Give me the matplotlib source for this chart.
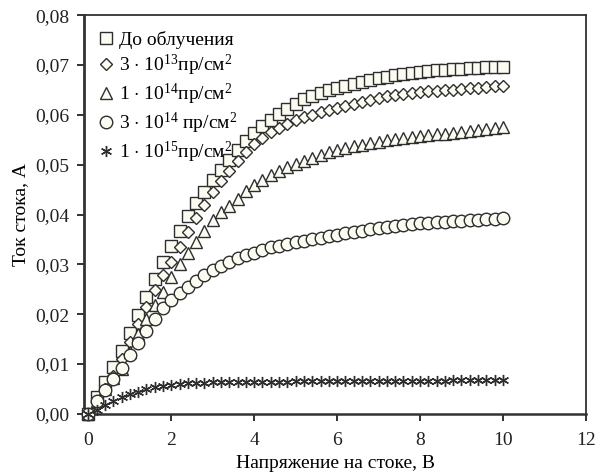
import numpy as np
import matplotlib
matplotlib.use("Agg")
import matplotlib.pyplot as plt
from matplotlib.ticker import FuncFormatter, MultipleLocator

plt.rcParams['font.family'] = ['Liberation Serif', 'DejaVu Serif']
plt.rcParams['mathtext.fontset'] = 'custom'
plt.rcParams['mathtext.rm'] = 'Liberation Serif'
plt.rcParams['mathtext.it'] = 'Liberation Serif:italic'

# drain voltage sweep, V
u_drain = np.round(np.arange(51) * 0.2, 1)

# drain current, A
i_before = [0.0000, 0.0033, 0.0064, 0.0094, 0.0127, 0.0163, 0.0198, 0.0235, 0.0270, 0.0305,
            0.0337, 0.0366, 0.0398, 0.0423, 0.0446, 0.0470, 0.0490, 0.0510, 0.0530, 0.0548,
            0.0564, 0.0578, 0.0590, 0.0602, 0.0612, 0.0622, 0.0631, 0.0638, 0.0644, 0.0649,
            0.0653, 0.0657, 0.0662, 0.0666, 0.0670, 0.0673, 0.0676, 0.0679, 0.0682, 0.0684,
            0.0686, 0.0688, 0.0689, 0.0690, 0.0691, 0.0692, 0.0693, 0.0694, 0.0695, 0.0695,
            0.0696]
i_3e13 = [0.0000, 0.0025, 0.0050, 0.0076, 0.0110, 0.0145, 0.0180, 0.0214, 0.0248, 0.0278,
          0.0305, 0.0335, 0.0365, 0.0393, 0.0420, 0.0445, 0.0468, 0.0488, 0.0507, 0.0525,
          0.0541, 0.0553, 0.0565, 0.0574, 0.0582, 0.0589, 0.0595, 0.0600, 0.0605, 0.0610,
          0.0614, 0.0618, 0.0622, 0.0626, 0.0630, 0.0634, 0.0637, 0.0640, 0.0642, 0.0644,
          0.0646, 0.0647, 0.0648, 0.0649, 0.0650, 0.0652, 0.0653, 0.0654, 0.0656, 0.0657,
          0.0658]
i_1e14 = [0.0000, 0.0025, 0.0050, 0.0072, 0.0090, 0.0125, 0.0160, 0.0190, 0.0218, 0.0245,
          0.0275, 0.0300, 0.0323, 0.0345, 0.0366, 0.0390, 0.0405, 0.0418, 0.0432, 0.0447,
          0.0460, 0.0470, 0.0480, 0.0488, 0.0496, 0.0502, 0.0508, 0.0514, 0.0520, 0.0525,
          0.0530, 0.0533, 0.0537, 0.0540, 0.0543, 0.0546, 0.0549, 0.0551, 0.0553, 0.0555,
          0.0557, 0.0559, 0.0561, 0.0562, 0.0564, 0.0566, 0.0567, 0.0569, 0.0571, 0.0573,
          0.0575]
i_3e14 = [0.0000, 0.0025, 0.0048, 0.0070, 0.0093, 0.0118, 0.0143, 0.0167, 0.0190, 0.0212,
          0.0228, 0.0242, 0.0255, 0.0267, 0.0278, 0.0288, 0.0297, 0.0304, 0.0312, 0.0318,
          0.0323, 0.0328, 0.0334, 0.0337, 0.0340, 0.0344, 0.0347, 0.0350, 0.0353, 0.0356,
          0.0359, 0.0362, 0.0365, 0.0367, 0.0370, 0.0372, 0.0374, 0.0376, 0.0378, 0.0380,
          0.0382, 0.0383, 0.0385, 0.0386, 0.0387, 0.0388, 0.0389, 0.0390, 0.0391, 0.0392,
          0.0394]
i_1e15 = [0.0000, 0.0008, 0.0017, 0.0026, 0.0033, 0.0040, 0.0045, 0.0050, 0.0054, 0.0057,
          0.0059, 0.0061, 0.0062, 0.0063, 0.0063, 0.0064, 0.0064, 0.0064, 0.0064, 0.0065,
          0.0065, 0.0065, 0.0065, 0.0065, 0.0065, 0.0066, 0.0066, 0.0066, 0.0066, 0.0066,
          0.0066, 0.0066, 0.0066, 0.0066, 0.0067, 0.0067, 0.0067, 0.0067, 0.0067, 0.0067,
          0.0067, 0.0067, 0.0067, 0.0067, 0.0068, 0.0068, 0.0068, 0.0068, 0.0068, 0.0068,
          0.0068]

labels = ["До облучения",
          r"3 $\cdot$ 10$^{13}$пр/см$^2$",
          r"1 $\cdot$ 10$^{14}$пр/см$^2$",
          r"3 $\cdot$ 10$^{14}$ пр/см$^2$",
          r"1 $\cdot$ 10$^{15}$пр/см$^2$"]
series = [i_before, i_3e13, i_1e14, i_3e14, i_1e15]
markers = ['s', 'D', '^', 'o', (6, 2, 0)]
sizes = [8.5, 6.2, 9, 9, 8]

edge = '#2e2e2e'
face = '#fbfbf2'

fig = plt.figure(figsize=(6.02, 4.72), dpi=100)
ax = fig.add_axes([0.14, 0.123, 0.833, 0.845])

for y, m, ms, lab in zip(series, markers, sizes, labels):
    ax.plot(u_drain, y, linestyle='none', marker=m, markersize=ms,
            markeredgecolor=edge, markerfacecolor=face, markeredgewidth=1.0,
            label=lab, clip_on=False, zorder=3)

ax.set_xlim(-0.1, 12)
ax.set_ylim(0, 0.08)
ax.xaxis.set_major_locator(MultipleLocator(2))
ax.yaxis.set_major_locator(MultipleLocator(0.01))
ax.yaxis.set_major_formatter(FuncFormatter(lambda v, _: f"{v:.2f}".replace('.', ',')))
ax.tick_params(direction='out', length=5, width=1.3, labelsize=14, colors='#222222')
ax.tick_params(axis='x', pad=8)
ax.tick_params(axis='y', pad=6)

for sp in ax.spines.values():
    sp.set_linewidth(1.3)
    sp.set_color('#333333')
ax.spines['left'].set_linewidth(2.0)
ax.spines['bottom'].set_linewidth(1.8)

ax.set_xlabel("Напряжение на стоке, В", fontsize=14, labelpad=4)
ax.set_ylabel("Ток стока, А", fontsize=14, labelpad=4)

ax.legend(loc='upper left', frameon=False, fontsize=14, handletextpad=0.2,
          labelspacing=0.2, borderaxespad=0.2, handlelength=1.0,
          bbox_to_anchor=(0.0, 0.99))

fig.savefig("out.png", dpi=100)
